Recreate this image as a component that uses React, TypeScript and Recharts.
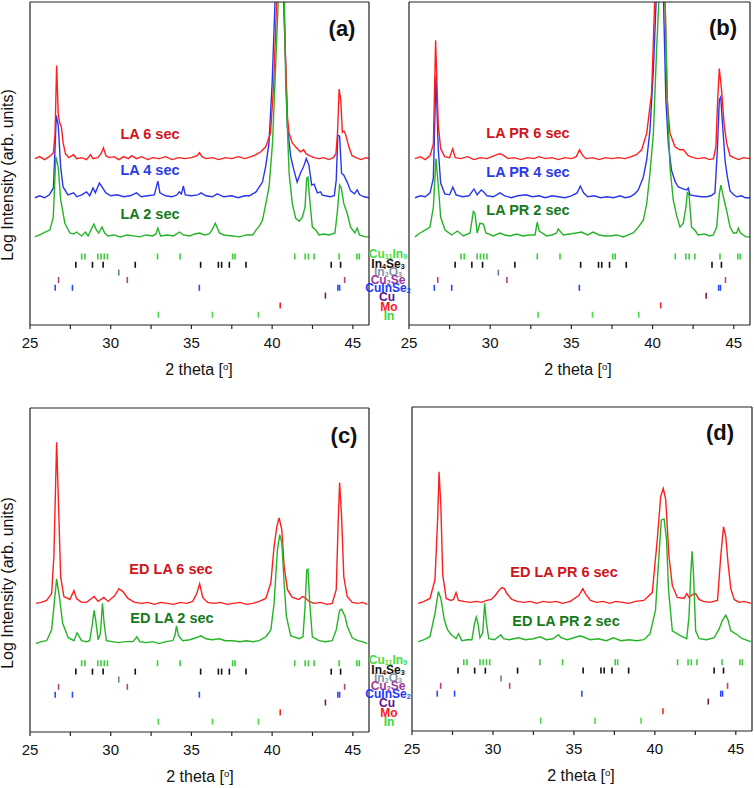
import React from 'react';
import { ComposedChart, Line, Scatter, XAxis, YAxis } from 'recharts';

type Pt = [number, number];

/* ------------------------------------------------------------------ */
/*  Patterns (2 theta, offset log intensity)                           */
/* ------------------------------------------------------------------ */
// panel (a) – LA
const laRed6: Pt[] = [[25.3,17.0],[25.6,17.2],[25.9,16.9],[26.2,17.2],[26.45,17.6],[26.55,19.5],[26.65,26.5],[26.75,21.5],[26.85,20.6],[26.95,20.2],[27.05,18.6],[27.2,17.5],[27.4,17.1],[27.7,17.4],[27.9,17.0],[28.2,17.1],[28.5,16.9],[28.75,17.4],[28.9,17.0],[29.2,17.1],[29.4,17.5],[29.55,18.1],[29.7,17.3],[29.9,17.1],[30.2,17.2],[30.5,16.9],[30.8,17.2],[31.1,17.0],[31.3,17.3],[31.6,17.0],[31.9,17.2],[32.3,16.9],[32.6,17.1],[33.0,17.0],[33.4,17.2],[33.8,16.9],[34.2,17.1],[34.6,17.0],[35.0,17.1],[35.35,17.3],[35.5,17.6],[35.65,17.2],[35.9,17.0],[36.3,17.1],[36.7,16.9],[37.1,17.1],[37.5,17.0],[37.9,17.2],[38.3,17.0],[38.7,17.2],[39.0,17.4],[39.3,17.7],[39.6,18.2],[39.9,19.6],[40.1,24.7],[40.3,34],[40.7,34],[40.95,21.2],[41.05,19.6],[41.25,18.6],[41.45,18.2],[41.75,17.7],[41.95,17.9],[42.1,17.5],[42.3,17.3],[42.6,17.1],[42.9,17.0],[43.2,17.1],[43.5,16.9],[43.8,17.1],[43.95,17.5],[44.05,19.6],[44.15,24.1],[44.25,23.0],[44.35,19.7],[44.45,19.8],[44.55,19.5],[44.75,18.2],[44.95,17.3],[45.2,17.1],[45.5,16.9],[45.8,17.1],[46.0,17.0]];
const laBlue4: Pt[] = [[25.3,13.0],[25.6,13.2],[25.9,13.0],[26.2,13.3],[26.45,14.0],[26.55,18.0],[26.63,21.4],[26.75,20.4],[26.9,16.1],[27.05,14.1],[27.35,13.3],[27.7,13.5],[27.9,13.1],[28.2,13.3],[28.5,13.6],[28.7,13.2],[28.9,14.0],[29.05,13.5],[29.3,14.5],[29.5,14.0],[29.7,13.5],[30.0,13.2],[30.4,13.3],[30.8,13.1],[31.2,13.2],[31.6,13.5],[31.9,13.1],[32.3,13.2],[32.7,13.3],[32.92,14.7],[33.05,13.5],[33.4,13.2],[33.8,13.1],[34.1,13.3],[34.25,13.6],[34.38,13.4],[34.5,14.2],[34.62,13.3],[35.0,13.2],[35.4,13.3],[35.6,13.5],[35.9,13.2],[36.3,13.1],[36.6,13.4],[37.0,13.1],[37.5,13.2],[37.9,13.0],[38.3,13.2],[38.6,13.2],[39.0,13.6],[39.4,14.6],[39.6,16.2],[39.8,18.5],[40.0,24.7],[40.2,34],[40.7,34],[40.95,20.2],[41.15,17.2],[41.35,15.8],[41.55,14.6],[41.75,15.5],[41.95,16.2],[42.12,17.0],[42.28,16.3],[42.45,14.3],[42.6,14.4],[42.8,13.5],[43.0,13.6],[43.1,13.3],[43.3,13.2],[43.6,13.1],[43.85,13.2],[43.97,14.8],[44.07,19.4],[44.18,19.3],[44.3,15.5],[44.44,15.3],[44.65,14.6],[44.86,13.7],[45.1,13.4],[45.27,13.8],[45.42,13.3],[45.7,13.1],[46.0,13.0]];
const laGreen2: Pt[] = [[25.3,9.0],[25.6,9.2],[25.93,9.5],[26.23,9.7],[26.44,11.0],[26.6,17.2],[26.75,16.1],[26.9,12.8],[27.16,10.4],[27.47,9.4],[27.7,9.3],[27.88,9.5],[28.19,9.1],[28.44,9.5],[28.6,9.1],[28.95,10.3],[29.12,9.7],[29.26,9.4],[29.46,10.0],[29.63,9.4],[29.83,9.1],[30.2,9.2],[30.6,9.0],[31.0,9.2],[31.4,9.1],[31.8,9.0],[32.2,9.2],[32.6,9.1],[32.8,9.3],[32.92,9.9],[33.09,9.1],[33.5,9.2],[33.9,9.1],[34.26,9.5],[34.5,9.2],[34.9,9.1],[35.2,9.3],[35.5,9.4],[35.8,9.2],[36.1,9.3],[36.3,9.8],[36.48,10.4],[36.73,9.4],[37.0,9.2],[37.55,9.1],[38.0,9.0],[38.4,9.2],[38.8,9.2],[39.0,9.7],[39.2,10.1],[39.4,10.7],[39.61,12.4],[39.81,14.1],[40.02,18.5],[40.23,27.0],[40.4,34],[40.75,34],[40.84,24.7],[41.05,15.5],[41.25,12.4],[41.46,10.9],[41.67,10.6],[41.87,11.0],[42.04,12.1],[42.14,15.0],[42.22,15.1],[42.33,12.8],[42.49,10.0],[42.7,9.7],[42.9,9.2],[43.2,9.3],[43.52,9.2],[43.89,9.4],[44.03,11.4],[44.18,14.3],[44.28,14.0],[44.44,12.4],[44.65,11.4],[44.86,10.0],[45.12,9.4],[45.27,9.9],[45.41,9.2],[45.78,9.0],[46.0,9.0]];

// panel (b) – LA PR
const prRed6: Pt[] = [[25.37,17.0],[25.7,17.2],[26.0,16.9],[26.3,17.3],[26.5,18.5],[26.64,29.1],[26.8,20.5],[26.95,18.0],[27.2,17.2],[27.5,17.1],[27.69,18.0],[27.85,17.1],[28.2,17.0],[28.6,17.2],[29.0,16.9],[29.4,17.1],[29.8,17.0],[30.1,17.2],[30.4,17.4],[30.6,17.5],[30.85,17.3],[31.1,17.0],[31.5,17.1],[31.9,16.9],[32.3,17.1],[32.7,17.0],[33.0,17.2],[33.4,17.0],[33.8,17.1],[34.2,16.9],[34.6,17.1],[35.0,17.0],[35.3,17.2],[35.5,17.9],[35.7,17.3],[35.9,17.0],[36.3,17.1],[36.7,16.9],[37.1,17.1],[37.5,17.0],[37.9,17.1],[38.3,17.0],[38.7,17.2],[39.0,17.4],[39.33,17.9],[39.64,19.6],[39.94,23.7],[40.15,34],[40.76,34],[40.9,23.0],[41.07,19.6],[41.38,18.2],[41.69,17.9],[41.9,17.9],[42.2,17.3],[42.5,17.1],[42.8,17.0],[43.2,17.1],[43.5,16.9],[43.75,17.0],[43.9,18.2],[44.01,23.0],[44.11,26.2],[44.25,24.0],[44.4,20.6],[44.56,18.6],[44.77,17.3],[45.0,17.1],[45.3,16.9],[45.6,17.1],[46.0,17.0]];
const prBlue4: Pt[] = [[25.37,13.0],[25.7,13.2],[26.0,13.1],[26.3,13.5],[26.5,15.0],[26.66,25.5],[26.8,18.0],[26.95,14.5],[27.2,13.4],[27.5,13.3],[27.7,14.1],[27.9,13.3],[28.3,13.1],[28.7,13.2],[29.0,13.9],[29.2,13.3],[29.45,13.8],[29.6,13.6],[29.8,13.2],[30.2,13.1],[30.6,13.5],[30.9,13.2],[31.3,13.0],[31.7,13.2],[32.2,13.3],[32.6,13.1],[33.0,13.2],[33.4,13.0],[33.8,13.2],[34.2,13.1],[34.6,13.0],[35.0,13.2],[35.35,13.5],[35.55,14.2],[35.75,13.5],[36.0,13.1],[36.4,13.2],[36.8,13.0],[37.2,13.1],[37.6,13.0],[38.0,13.2],[38.3,13.0],[38.61,13.1],[38.9,13.4],[39.12,13.8],[39.43,15.1],[39.64,16.9],[39.84,19.9],[40.05,26.0],[40.24,34],[40.66,34],[40.82,23.0],[40.97,18.5],[41.17,15.8],[41.38,14.7],[41.58,14.1],[41.89,13.9],[42.1,13.8],[42.2,14.0],[42.3,13.3],[42.6,13.2],[43.0,13.1],[43.33,13.1],[43.6,13.2],[43.84,13.5],[43.99,17.9],[44.11,23.0],[44.2,23.3],[44.32,20.2],[44.47,16.7],[44.61,15.1],[44.77,13.7],[45.0,13.3],[45.18,13.1],[45.5,13.2],[45.7,13.0],[46.0,13.0]];
const prGreen2: Pt[] = [[25.37,9.0],[25.68,9.4],[25.99,9.7],[26.29,10.0],[26.5,12.0],[26.66,17.0],[26.81,14.1],[26.95,11.0],[27.22,9.7],[27.63,9.2],[27.98,9.6],[28.35,9.1],[28.76,9.4],[28.96,11.6],[29.06,11.4],[29.2,9.4],[29.37,10.4],[29.58,10.3],[29.74,9.4],[30.19,9.1],[30.6,9.4],[30.9,9.2],[31.22,9.1],[31.63,9.3],[32.0,9.1],[32.4,9.2],[32.76,9.2],[32.9,10.5],[33.02,9.6],[33.48,9.1],[33.8,9.2],[34.09,9.4],[34.19,9.8],[34.5,9.2],[34.9,9.3],[35.3,9.4],[35.63,9.5],[36.0,9.2],[36.35,9.5],[36.7,9.2],[37.1,9.1],[37.38,9.1],[37.8,9.2],[38.2,9.0],[38.5,9.2],[38.81,9.4],[39.12,10.0],[39.43,10.7],[39.64,12.4],[39.84,15.5],[40.05,19.6],[40.25,28.2],[40.41,34],[40.76,34],[40.91,23.0],[41.07,16.2],[41.27,12.8],[41.48,11.2],[41.69,10.0],[41.89,10.4],[42.05,12.0],[42.15,13.6],[42.25,13.2],[42.4,10.0],[42.6,9.7],[42.81,9.2],[43.2,9.3],[43.5,9.1],[43.74,9.2],[43.95,10.0],[44.11,13.4],[44.21,14.3],[44.36,13.1],[44.56,11.7],[44.77,10.0],[44.98,9.4],[45.18,9.4],[45.28,9.9],[45.42,9.4],[45.75,9.0],[46.0,9.0]];

// panel (c) – ED LA
const edRed6: Pt[] = [[25.37,13.1],[25.7,13.2],[26.03,13.4],[26.34,14.1],[26.48,17.9],[26.65,29.5],[26.77,23.0],[26.9,15.8],[27.1,13.8],[27.47,13.5],[27.72,14.4],[27.88,13.6],[28.2,13.2],[28.5,13.2],[28.97,13.8],[29.22,13.3],[29.57,13.7],[29.84,13.3],[30.25,13.9],[30.51,14.6],[30.76,14.3],[31.07,13.6],[31.48,13.2],[31.9,13.1],[32.3,13.2],[32.7,13.0],[33.1,13.2],[33.5,13.1],[33.9,13.0],[34.3,13.2],[34.7,13.1],[35.08,13.3],[35.33,14.1],[35.51,15.1],[35.7,13.7],[36.0,13.2],[36.4,13.1],[36.8,13.2],[37.2,13.0],[37.6,13.1],[38.0,13.2],[38.4,13.0],[38.8,13.1],[39.2,13.3],[39.61,13.6],[39.92,15.2],[40.12,18.9],[40.29,20.9],[40.43,21.8],[40.6,20.6],[40.74,16.9],[40.95,14.5],[41.25,13.7],[41.67,13.5],[41.87,13.8],[42.04,13.7],[42.28,13.3],[42.6,13.1],[43.0,13.2],[43.4,13.0],[43.72,13.1],[43.97,14.5],[44.09,21.3],[44.18,25.4],[44.3,22.0],[44.44,15.8],[44.65,13.8],[44.96,13.2],[45.3,13.1],[45.6,13.2],[45.89,13.0]];
const edGreen2: Pt[] = [[25.37,9.0],[25.7,9.2],[26.03,9.3],[26.34,10.4],[26.5,13.1],[26.65,15.6],[26.81,13.9],[27.02,11.1],[27.37,9.6],[27.72,9.3],[27.92,10.1],[28.19,9.3],[28.5,9.2],[28.7,9.3],[28.87,11.1],[28.97,12.4],[29.07,11.4],[29.22,9.4],[29.36,10.0],[29.49,13.1],[29.59,11.1],[29.73,9.3],[30.1,9.2],[30.5,9.1],[30.9,9.2],[31.38,9.2],[31.62,9.7],[31.79,9.2],[32.2,9.1],[32.6,9.2],[33.0,9.0],[33.4,9.2],[33.85,9.3],[33.99,9.9],[34.07,10.8],[34.2,9.8],[34.46,9.3],[34.9,9.4],[35.29,9.6],[35.6,9.8],[35.9,9.5],[36.3,9.4],[36.73,9.5],[37.1,9.3],[37.55,9.3],[38.0,9.2],[38.4,9.3],[38.8,9.2],[39.2,9.3],[39.61,9.7],[39.92,10.4],[40.12,13.1],[40.33,18.6],[40.47,20.1],[40.6,19.3],[40.74,15.2],[40.88,11.8],[41.15,9.8],[41.67,9.5],[41.91,9.7],[42.04,12.8],[42.14,16.5],[42.22,16.6],[42.33,13.1],[42.49,9.7],[42.9,9.3],[43.3,9.2],[43.72,9.3],[43.97,10.4],[44.18,12.4],[44.3,12.5],[44.51,11.8],[44.65,10.8],[44.96,9.6],[45.3,9.3],[45.6,9.2],[45.89,9.0]];

// panel (d) – ED LA PR
const edprRed6: Pt[] = [[25.39,13.0],[25.75,13.2],[26.11,13.5],[26.42,15.4],[26.59,21.9],[26.67,26.4],[26.78,23.0],[26.9,15.9],[27.11,13.5],[27.4,13.3],[27.56,13.4],[27.72,14.1],[27.87,13.3],[28.2,13.2],[28.59,13.1],[29.0,13.2],[29.3,13.1],[29.62,13.3],[29.9,13.4],[30.14,13.8],[30.35,14.3],[30.55,14.6],[30.7,14.5],[30.86,14.0],[31.17,13.4],[31.5,13.2],[31.9,13.1],[32.3,13.2],[32.7,13.0],[33.1,13.2],[33.5,13.1],[33.9,13.2],[34.3,13.0],[34.78,13.2],[35.3,13.8],[35.55,14.5],[35.71,14.0],[36.02,13.3],[36.4,13.1],[36.8,13.2],[37.2,13.0],[37.6,13.2],[38.0,13.1],[38.4,13.0],[38.8,13.2],[39.32,13.3],[39.84,14.1],[40.15,19.5],[40.36,23.9],[40.52,24.7],[40.67,23.6],[40.87,17.8],[41.08,14.8],[41.39,13.6],[41.8,13.5],[41.97,14.0],[42.11,13.6],[42.32,13.9],[42.52,14.0],[42.73,13.4],[43.0,13.2],[43.4,13.1],[43.87,13.3],[44.07,17.8],[44.24,20.8],[44.38,19.8],[44.52,17.1],[44.69,14.5],[44.9,13.4],[45.2,13.1],[45.5,13.2],[45.93,13.0]];
const edprGreen2: Pt[] = [[25.39,9.1],[25.75,9.3],[26.11,9.6],[26.42,12.0],[26.63,14.2],[26.78,13.5],[27.0,11.3],[27.2,10.3],[27.43,9.8],[27.72,9.4],[27.87,9.9],[28.08,9.2],[28.4,9.3],[28.7,9.3],[28.87,11.0],[28.97,11.6],[29.07,11.0],[29.2,9.5],[29.37,10.0],[29.49,13.0],[29.6,11.0],[29.74,9.4],[30.1,9.3],[30.49,9.8],[30.65,9.4],[31.0,9.3],[31.58,9.5],[32.0,9.3],[32.5,9.4],[32.91,9.6],[33.3,9.3],[33.7,9.4],[34.05,9.8],[34.2,9.5],[34.6,9.3],[35.0,9.5],[35.4,9.7],[35.7,9.5],[36.0,9.3],[36.5,9.4],[37.0,9.2],[37.45,9.5],[37.9,9.2],[38.4,9.3],[38.9,9.2],[39.32,9.3],[39.7,9.9],[40.04,12.3],[40.25,17.8],[40.4,21.5],[40.57,21.6],[40.72,19.5],[40.85,14.3],[41.08,10.2],[41.6,9.7],[41.97,9.4],[42.11,11.7],[42.21,15.7],[42.3,18.3],[42.38,16.3],[42.52,10.2],[42.73,9.4],[43.2,9.3],[43.66,9.5],[43.97,10.4],[44.18,11.3],[44.38,11.8],[44.52,11.3],[44.69,10.2],[45.0,9.9],[45.4,9.4],[45.93,9.1]];

/* reference reflections */
const cu11in9Pos = [28.2, 28.4, 29.2, 29.4, 29.6, 29.8, 32.9, 34.3, 37.55, 37.7, 41.4, 42.05, 42.25, 42.6, 44.15, 45.25, 45.4];
const in4se3Pos = [27.84, 28.87, 29.53, 31.52, 35.57, 36.67, 36.87, 37.35, 38.38, 43.66, 44.24];
const in2o3Pos = [30.5];
const cu2sePos = [26.77, 31.03, 44.49];
const cuinse2Pos = [26.56, 27.63, 35.49, 44.07, 44.18];
const cuPos = [43.3];
const moPos = [40.5];
const inPos = [32.95, 36.3, 39.15];
const PHASE_ROWS = [7.0, 6.15, 5.35, 4.6, 3.8, 3.0, 2.0, 1.05];

const X_TICKS = [25, 27.5, 30, 32.5, 35, 37.5, 40, 42.5, 45];
const Y_TICKS = [3, 13, 23];

const RED = '#ff1f1f';
const BLUE = '#2a36ee';
const GREEN = '#25b425';
const AXIS = '#222';
const FONT = 'Arial, "Liberation Sans", sans-serif';

const PHASES = [
  { pos: cu11in9Pos, row: 0, color: '#3ccc3c' },
  { pos: in4se3Pos, row: 1, color: '#111111' },
  { pos: in2o3Pos, row: 2, color: '#6d7f99' },
  { pos: cu2sePos, row: 3, color: '#b83f86' },
  { pos: cuinse2Pos, row: 4, color: '#2a48ff' },
  { pos: cuPos, row: 5, color: '#7a1d45' },
  { pos: moPos, row: 6, color: '#ff2020' },
  { pos: inPos, row: 7, color: '#46dd46' },
];

const toXY = (pts: Pt[]) => pts.map(([x, y]) => ({ x, y }));

const barShape = (color: string) => (p: any) => (
  <line x1={p.cx} x2={p.cx} y1={p.cy - 3} y2={p.cy + 3} stroke={color} strokeWidth={1.6} />
);

interface PanelProps {
  left: number;
  top: number;
  w: number;
  h: number;
  margin: { top: number; right: number; bottom: number; left: number };
  series: { data: Pt[]; color: string }[];
}

function Panel({ left, top, w, h, margin, series }: PanelProps) {
  const axisStyle = { stroke: AXIS, strokeWidth: 1.2 };
  return (
    <div style={{ position: 'absolute', left, top }}>
      <ComposedChart width={w} height={h} margin={margin}>
        <XAxis
          xAxisId="b"
          dataKey="x"
          type="number"
          domain={[25, 46]}
          allowDataOverflow
          ticks={X_TICKS}
          tickFormatter={(v: number) => (v % 5 === 0 ? String(v) : '')}
          height={30}
          tickSize={4}
          tickMargin={8}
          axisLine={axisStyle}
          tickLine={axisStyle}
          tick={{ fill: '#111', fontSize: 15, fontFamily: FONT }}
        />
        <XAxis
          xAxisId="t"
          dataKey="x"
          type="number"
          orientation="top"
          mirror
          domain={[25, 46]}
          allowDataOverflow
          ticks={X_TICKS}
          tick={false}
          tickSize={4}
          axisLine={axisStyle}
          tickLine={axisStyle}
        />
        <YAxis
          yAxisId="l"
          dataKey="y"
          type="number"
          mirror
          domain={[0, 33]}
          allowDataOverflow
          ticks={Y_TICKS}
          tick={false}
          tickSize={5}
          axisLine={axisStyle}
          tickLine={axisStyle}
        />
        <YAxis
          yAxisId="r"
          dataKey="y"
          type="number"
          orientation="right"
          mirror
          domain={[0, 33]}
          allowDataOverflow
          ticks={Y_TICKS}
          tick={false}
          tickSize={5}
          axisLine={axisStyle}
          tickLine={axisStyle}
        />
        {PHASES.map((ph, i) => (
          <Scatter
            key={`ph-${i}`}
            xAxisId="b"
            yAxisId="l"
            data={ph.pos.map((x) => ({ x, y: PHASE_ROWS[ph.row] }))}
            shape={barShape(ph.color)}
            isAnimationActive={false}
          />
        ))}
        {series.map((s, i) => (
          <Line
            key={`s-${i}`}
            xAxisId="b"
            yAxisId="l"
            data={toXY(s.data)}
            dataKey="y"
            type="linear"
            stroke={s.color}
            strokeWidth={1.4}
            dot={false}
            activeDot={false}
            isAnimationActive={false}
          />
        ))}
      </ComposedChart>
    </div>
  );
}

function Txt({
  x,
  y,
  size,
  color = '#111',
  bold = false,
  rotate = false,
  children,
}: {
  x: number;
  y: number;
  size: number;
  color?: string;
  bold?: boolean;
  rotate?: boolean;
  children: React.ReactNode;
}) {
  return (
    <div
      style={{
        position: 'absolute',
        left: x,
        top: y,
        transform: `translate(-50%, -50%)${rotate ? ' rotate(-90deg)' : ''}`,
        fontSize: size,
        color,
        fontWeight: bold ? 700 : 400,
        whiteSpace: 'nowrap',
        lineHeight: 1,
        fontFamily: FONT,
      }}
    >
      {children}
    </div>
  );
}

const Sub = ({ children }: { children: React.ReactNode }) => (
  <sub style={{ fontSize: '0.6em', lineHeight: 0, verticalAlign: '-0.2em' }}>{children}</sub>
);

function PhaseLabels({ dy }: { dy: number }) {
  const s = 12;
  return (
    <>
      <Txt x={388} y={254 + dy} size={s} bold color="#3fe03f">Cu<Sub>11</Sub>In<Sub>9</Sub></Txt>
      <Txt x={388} y={264 + dy} size={s} bold color="#111">In<Sub>4</Sub>Se<Sub>3</Sub></Txt>
      <Txt x={388} y={272 + dy} size={s} bold color="#8797a6">In<Sub>2</Sub>O<Sub>3</Sub></Txt>
      <Txt x={388} y={280 + dy} size={s} bold color="#9b3a9b">Cu<Sub>2</Sub>Se</Txt>
      <Txt x={388} y={288 + dy} size={s} bold color="#2238ff">CuInSe<Sub>2</Sub></Txt>
      <Txt x={387} y={297 + dy} size={s} bold color="#62108f">Cu</Txt>
      <Txt x={389} y={307 + dy} size={s} bold color="#ff1a1a">Mo</Txt>
      <Txt x={389} y={316 + dy} size={s} bold color="#3ad83a">In</Txt>
    </>
  );
}

const XLabel = ({ x, y }: { x: number; y: number }) => (
  <Txt x={x} y={y} size={16}>
    2 theta [<sup style={{ fontSize: '0.6em', lineHeight: 0, verticalAlign: '0.55em' }}>o</sup>]
  </Txt>
);

const LBL_RED = '#d0141c';
const LBL_BLUE = '#2b3ae6';
const LBL_GREEN = '#167a1a';

export default function App() {
  return (
    <div
      style={{
        position: 'absolute',
        left: 0,
        top: 0,
        width: 754,
        height: 788,
        background: '#fff',
        fontFamily: FONT,
        overflow: 'hidden',
      }}
    >
      <Panel
        left={0}
        top={0}
        w={375}
        h={385}
        margin={{ top: 2, right: 6, bottom: 30, left: 30 }}
        series={[
          { data: laBlue4, color: BLUE },
          { data: laRed6, color: RED },
          { data: laGreen2, color: GREEN },
        ]}
      />
      <Panel
        left={375}
        top={0}
        w={379}
        h={385}
        margin={{ top: 2, right: 4, bottom: 30, left: 34 }}
        series={[
          { data: prBlue4, color: BLUE },
          { data: prRed6, color: RED },
          { data: prGreen2, color: GREEN },
        ]}
      />
      <Panel
        left={0}
        top={390}
        w={375}
        h={395}
        margin={{ top: 18, right: 6, bottom: 23, left: 30 }}
        series={[
          { data: edRed6, color: RED },
          { data: edGreen2, color: GREEN },
        ]}
      />
      <Panel
        left={375}
        top={390}
        w={379}
        h={395}
        margin={{ top: 17, right: 2, bottom: 24, left: 37 }}
        series={[
          { data: edprRed6, color: RED },
          { data: edprGreen2, color: GREEN },
        ]}
      />

      {/* panel letters */}
      <Txt x={342} y={29} size={22} bold>(a)</Txt>
      <Txt x={723} y={28} size={22} bold>(b)</Txt>
      <Txt x={344} y={436} size={22} bold>(c)</Txt>
      <Txt x={720} y={433} size={22} bold>(d)</Txt>

      {/* sample labels */}
      <Txt x={150} y={134} size={14.5} bold color={LBL_RED}>LA 6 sec</Txt>
      <Txt x={150} y={170} size={14.5} bold color={LBL_BLUE}>LA 4 sec</Txt>
      <Txt x={150} y={214} size={14.5} bold color={LBL_GREEN}>LA 2 sec</Txt>
      <Txt x={528} y={133} size={14.5} bold color={LBL_RED}>LA PR 6 sec</Txt>
      <Txt x={528} y={172} size={14.5} bold color={LBL_BLUE}>LA PR 4 sec</Txt>
      <Txt x={528} y={210} size={14.5} bold color={LBL_GREEN}>LA PR 2 sec</Txt>
      <Txt x={171} y={569} size={14.5} bold color={LBL_RED}>ED LA 6 sec</Txt>
      <Txt x={172} y={618} size={14.5} bold color={LBL_GREEN}>ED LA 2 sec</Txt>
      <Txt x={564} y={572} size={14.5} bold color={LBL_RED}>ED LA PR 6 sec</Txt>
      <Txt x={566} y={621} size={14.5} bold color={LBL_GREEN}>ED LA PR 2 sec</Txt>

      {/* phase legend between panels */}
      <PhaseLabels dy={0} />
      <PhaseLabels dy={406} />

      {/* axis titles */}
      <XLabel x={199} y={370} />
      <XLabel x={578} y={370} />
      <XLabel x={200} y={777} />
      <XLabel x={581} y={776} />
      <Txt x={8} y={175} size={16} rotate>Log Intensity (arb. units)</Txt>
      <Txt x={8} y={583} size={16} rotate>Log Intensity (arb. units)</Txt>
    </div>
  );
}
